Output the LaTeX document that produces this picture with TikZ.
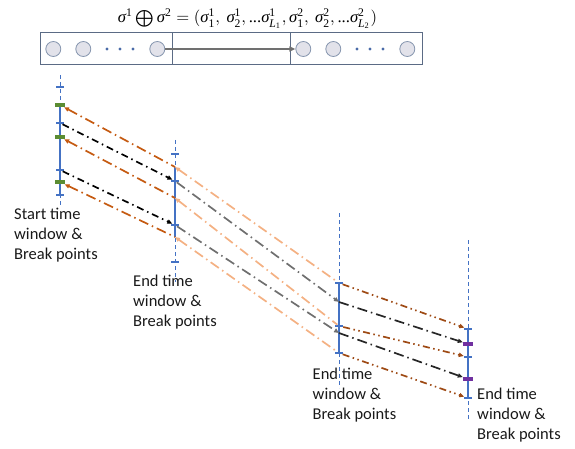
\documentclass[tikz,border=0pt]{standalone}
\usepackage{amsmath}
\usepackage[no-math]{fontspec}
\setmainfont{Carlito}
\newfontfamily\tnr{Liberation Serif}
\usepackage{graphicx}
\usetikzlibrary{arrows.meta}
\definecolor{tblue}{HTML}{4472C4}
\definecolor{tdorange}{HTML}{C55A11}
\definecolor{tpeach}{HTML}{F4B183}
\definecolor{tgray}{HTML}{6F6F6F}
\definecolor{tbrown}{HTML}{9E4A14}
\definecolor{tgreen}{HTML}{5B8C32}
\definecolor{tpurple}{HTML}{7030A0}
\definecolor{tbox}{HTML}{5B6B85}
\definecolor{tcirc}{HTML}{E2E2EA}
\definecolor{tcircd}{HTML}{8595AE}
\definecolor{tarrow}{HTML}{707070}
\definecolor{tdot}{HTML}{4A6BA8}
\newcommand{\fs}{\text{\tnr\itshape σ}}
\newcommand{\fn}[1]{\text{\tnr #1}}
\newcommand{\fL}[1]{\text{\tnr\itshape L}_{\fn{#1}}}
\begin{document}
\begin{tikzpicture}[x=1pt,y=-1pt,
  vdash/.style={tblue, line width=0.8pt, dash pattern=on 4pt off 3pt},
  vsolid/.style={tblue, line width=2.6pt},
  tickb/.style={shape=rectangle, fill=tblue, minimum width=8pt, minimum height=2.2pt, inner sep=0pt},
  tickg/.style={shape=rectangle, fill=tgreen, minimum width=10pt, minimum height=4pt, inner sep=0pt},
  tickp/.style={shape=rectangle, fill=tpurple, minimum width=10pt, minimum height=4pt, inner sep=0pt},
  tip/.style={-{Triangle[length=5pt,width=4.2pt]}},
  revtip/.style={{Triangle[length=5pt,width=4.2pt]}-},
  conA/.style={tdorange, line width=1.7pt, dash pattern=on 10pt off 4pt on 1.5pt off 4pt, revtip},
  conAk/.style={black, line width=1.7pt, dash pattern=on 7pt off 4pt on 1.5pt off 4pt, tip},
  conB/.style={tpeach, line width=1.7pt, dash pattern=on 10pt off 4pt on 1.5pt off 4pt, revtip},
  conBk/.style={tgray, line width=1.7pt, dash pattern=on 10pt off 4pt on 1.5pt off 4pt, tip},
  conC/.style={tbrown, line width=1.7pt, dash pattern=on 7pt off 3.5pt on 1.5pt off 3.5pt on 1.5pt off 3.5pt, tip},
  conCk/.style={black!85, line width=1.7pt, dash pattern=on 10pt off 4pt on 1.5pt off 4pt, tip},
  lab/.style={anchor=north west, inner sep=0pt, align=left, font=\fontsize{16.5}{20}\selectfont, text=black!90},
  circ/.style={circle, draw=tcircd, fill=tcirc, line width=0.8pt, minimum size=15pt, inner sep=0pt},
  dotn/.style={circle, fill=tdot, minimum size=3.2pt, inner sep=0pt}
]
\useasboundingbox (0,0) rectangle (575,449);

% formula
\node[inner sep=0pt] (formula) at (247.5,19) {\resizebox{259pt}{!}{$\fs^{\fn{1}} \mathop{\textstyle\bigoplus} \fs^{\fn{2}} = (\fs^{\fn{1}}_{\fn{1}},\ \fs^{\fn{1}}_{\fn{2}}, \fn{...}\fs^{\fn{1}}_{\fL{1}}, \fs^{\fn{2}}_{\fn{1}},\ \fs^{\fn{2}}_{\fn{2}}, \fn{...}\fs^{\fn{2}}_{\fL{2}})$}};

% box
\draw[tbox, line width=0.9pt] (40.7,32.3) rectangle (422.7,64.3);
\draw[tbox, line width=0.9pt] (172,32.3) -- (172,64.3);
\draw[tbox, line width=0.9pt] (290.7,32.3) -- (290.7,64.3);
\node[circ] (c1) at (53.3,49) {};
\node[circ] (c2) at (83.3,49) {};
\node[dotn] (d1) at (107,49) {};
\node[dotn] (d2) at (120,49) {};
\node[dotn] (d3) at (133,49) {};
\node[circ] (c4) at (157.3,49) {};
\node[circ] (c5) at (303.3,49) {};
\node[circ] (c6) at (333.3,49) {};
\node[dotn] (d4) at (357,49) {};
\node[dotn] (d5) at (370,49) {};
\node[dotn] (d6) at (383,49) {};
\node[circ] (c8) at (407.3,49) {};
\draw[tarrow, line width=1.3pt, -{Triangle[length=6pt,width=5pt]}] (c4) -- (c5);

% vertical lines
\draw[vdash] (60,75) -- (60,205);
\draw[vsolid] (60,105) -- (60,195);
\draw[vdash] (175,140) -- (175,282);
\draw[vsolid] (175,167) -- (175,237);
\draw[vdash] (339,213) -- (339,388);
\draw[vsolid] (339,283) -- (339,353);
\draw[vdash] (468,240) -- (468,420);
\draw[vsolid] (468,329) -- (468,398);

% line 1 ticks
\node[tickb] (t1top) at (60,87) {};
\node[tickg] (l1a) at (60,105) {};
\node[tickb] (l1b) at (60,123) {};
\node[tickg] (l1c) at (60,137) {};
\node[tickb] (l1d) at (60,170) {};
\node[tickg] (l1e) at (60,182) {};
\node[tickb] (l1f) at (60,195) {};
% line 2
\node[tickb] (t2top) at (175,154) {};
\coordinate (l2a) at (175,167);
\node[tickb] (l2b) at (175,181) {};
\coordinate (l2c) at (175,198);
\node[tickb] (l2d) at (175,225) {};
\coordinate (l2e) at (175,237);
\node[tickb] (t2bot) at (175,262) {};
% line 3
\node[tickb] (l3a) at (339,283) {};
\coordinate (l3b) at (339,302);
\node[tickb] (l3c) at (339,326) {};
\coordinate (l3d) at (339,333);
\node[tickb] (l3e) at (339,353) {};
% line 4
\node[tickb] (l4a) at (468,329) {};
\node[tickp] (l4b) at (468,344) {};
\node[tickb] (l4c) at (468,357) {};
\node[tickp] (l4d) at (468,379) {};
\node[tickb] (l4e) at (468,398) {};

% group A
\draw[conA] (l1a) -- (l2a);
\draw[conA] (l1c) -- (l2c);
\draw[conA] (l1e) -- (l2e);
\draw[conAk] (l1b) -- (l2b);
\draw[conAk] (l1d) -- (l2d);
% group B
\draw[conB] (l2a) -- (l3a);
\draw[conB] (l2c) -- (l3c);
\draw[conB] (l2e) -- (l3e);
\draw[conBk] (l2b) -- (l3b);
\draw[conBk] (l2d) -- (l3d);
% group C
\draw[conC] (l3a) -- (l4a);
\draw[conC] (l3c) -- (l4c);
\draw[conC] (l3e) -- (l4e);
\draw[conCk] (l3b) -- (l4b);
\draw[conCk] (l3d) -- (l4d);

% labels
\node[lab] (lab1) at (14,207.5) {Start time\\window \&\\Break points};
\node[lab] (lab2) at (133,274.5) {End time\\window \&\\Break points};
\node[lab] (lab3) at (312.5,367.5) {End time\\window \&\\Break points};
\node[lab] (lab4) at (477,388) {End time\\window \&\\Break points};
\end{tikzpicture}
\end{document}
